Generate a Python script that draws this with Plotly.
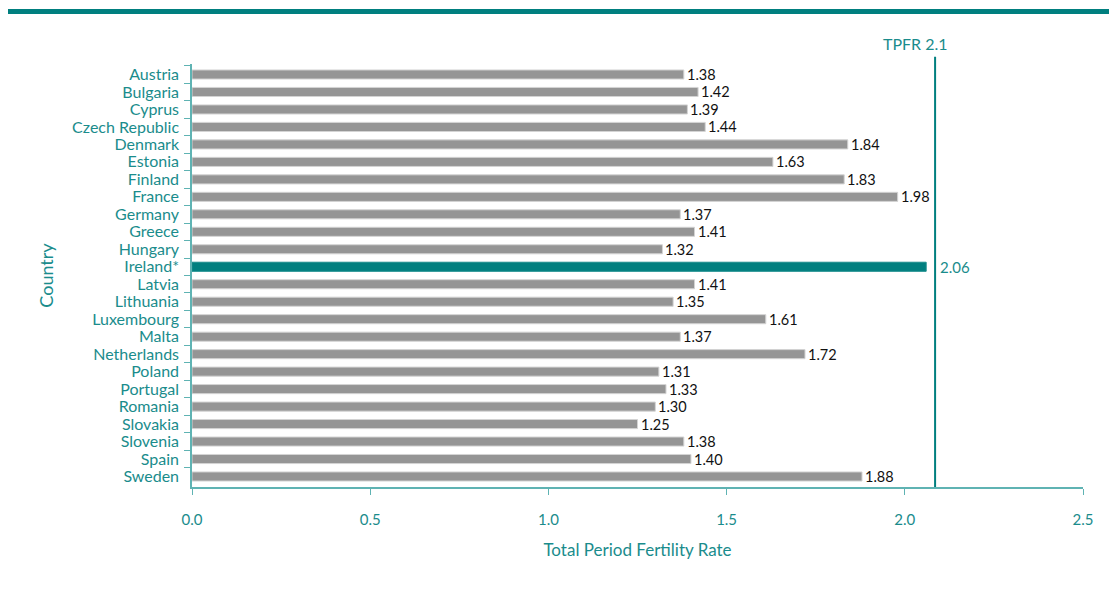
import plotly.graph_objects as go

countries = ["Austria", "Bulgaria", "Cyprus", "Czech Republic", "Denmark", "Estonia",
             "Finland", "France", "Germany", "Greece", "Hungary", "Ireland*", "Latvia",
             "Lithuania", "Luxembourg", "Malta", "Netherlands", "Poland", "Portugal",
             "Romania", "Slovakia", "Slovenia", "Spain", "Sweden"]
tpfr = [1.38, 1.42, 1.39, 1.44, 1.84, 1.63, 1.83, 1.98, 1.37, 1.41, 1.32, 2.06, 1.41,
        1.35, 1.61, 1.37, 1.72, 1.31, 1.33, 1.30, 1.25, 1.38, 1.40, 1.88]
highlight = "Ireland*"
replacement_label = "TPFR 2.1"
replacement_line_x = 2.085
x_ticks = [0.0, 0.5, 1.0, 1.5, 2.0, 2.5]

TEAL = "#007F7F"
TEAL_TXT = "#1A8C8C"
AXIS = "#5FB3B3"
GREY = "#959595"
FONT = "Lato"

colors = [TEAL if c == highlight else GREY for c in countries]
edge = ["#1A8C8C" if c == highlight else "#D4D4D4" for c in countries]

fig = go.Figure()
fig.add_trace(go.Bar(
    x=tpfr, y=countries, orientation="h", width=0.52,
    marker=dict(color=colors, line=dict(color=edge, width=1)),
    hoverinfo="x+y", showlegend=False,
))

annotations = []
for c, v in zip(countries, tpfr):
    if c == highlight:
        annotations.append(dict(x=replacement_line_x, y=c, xref="x", yref="y",
                                text=f"{v:.2f}", showarrow=False, xanchor="left",
                                xshift=3, font=dict(family=FONT, size=15, color=TEAL_TXT)))
    else:
        annotations.append(dict(x=v, y=c, xref="x", yref="y", text=f"{v:.2f}",
                                showarrow=False, xanchor="left", xshift=1,
                                font=dict(family=FONT, size=14.5, color="#111111")))

annotations.append(dict(x=replacement_line_x, y=1.022, xref="x", yref="paper",
                        text=replacement_label, showarrow=False, xanchor="center",
                        yanchor="bottom", xshift=-20,
                        font=dict(family=FONT, size=16, color=TEAL_TXT)))

shapes = [
    dict(type="line", xref="x", yref="paper", x0=replacement_line_x, x1=replacement_line_x,
         y0=0, y1=1.017, line=dict(color=TEAL, width=2)),
    dict(type="rect", xref="paper", yref="paper", x0=-0.215, x1=1.04, y0=1.118, y1=1.130,
         fillcolor=TEAL, line=dict(width=0)),
]

fig.update_layout(
    width=1109, height=588,
    margin=dict(l=184, r=34, t=56, b=109, autoexpand=False),
    plot_bgcolor="white", paper_bgcolor="white",
    font=dict(family=FONT, color=TEAL_TXT),
    annotations=annotations, shapes=shapes,
    xaxis=dict(
        range=[0, 2.5], tickvals=x_ticks, ticktext=[f"{t:.1f}" for t in x_ticks],
        showgrid=False, zeroline=False, showline=True, linecolor=AXIS, linewidth=2,
        ticks="outside", ticklen=6, tickcolor=AXIS, tickwidth=1,
        tickfont=dict(family=FONT, size=15, color=TEAL_TXT), ticklabelstandoff=12,
        title=dict(text="Total Period Fertility Rate", standoff=17,
                   font=dict(family=FONT, size=17, color=TEAL_TXT)),
    ),
    yaxis=dict(
        autorange="reversed", showgrid=False, zeroline=False, showline=True,
        linecolor=AXIS, linewidth=1.5, ticks="outside", ticklen=6, tickcolor=AXIS,
        tickson="boundaries", dtick=1, tickmode="linear",
        tickfont=dict(family=FONT, size=16, color=TEAL_TXT),
        ticklabelstandoff=8,
        title=dict(text="Country", standoff=14,
                   font=dict(family=FONT, size=18, color=TEAL_TXT)),
    ),
)

fig.write_html("out.html")
